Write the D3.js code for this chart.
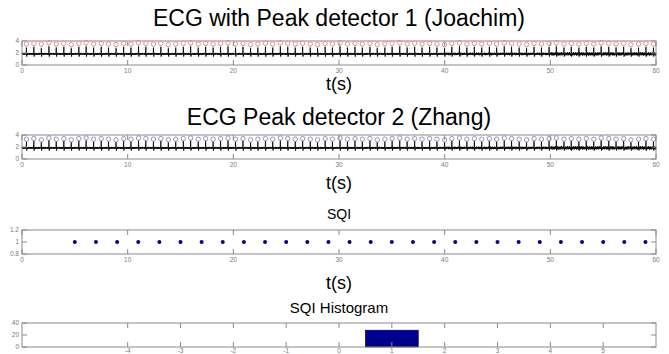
<!DOCTYPE html>
<html>
<head>
<meta charset="utf-8">
<script src="https://cdn.jsdelivr.net/npm/d3@7"></script>
<style>
  html, body { margin: 0; padding: 0; background: #fff; }
  svg { display: block; }
  text { font-family: "Liberation Sans", Arial, sans-serif; }
</style>
</head>
<body>
<script>
// ---- data ----------------------------------------------------------
// R-peak times (s) over the 60 s recording
const beatTimes = [
  0.42, 1.12, 1.83, 2.55, 3.24, 3.96, 4.66, 5.38, 6.07, 6.78,
  7.50, 8.19, 8.90, 9.62, 10.31, 11.03, 11.72, 12.44, 13.14, 13.85,
  14.55, 15.27, 15.96, 16.68, 17.38, 18.09, 18.79, 19.50, 20.21, 20.91,
  21.63, 22.32, 23.04, 23.73, 24.45, 25.15, 25.86, 26.56, 27.28, 27.97,
  28.69, 29.38, 30.10, 30.80, 31.51, 32.21, 32.93, 33.62, 34.34, 35.03,
  35.75, 36.45, 37.16, 37.86, 38.58, 39.27, 39.99, 40.68, 41.40, 42.10,
  42.81, 43.51, 44.23, 44.92, 45.64, 46.33, 47.05, 47.75, 48.46, 49.16,
  49.88, 50.57, 51.29, 51.98, 52.70, 53.40, 54.11, 54.81, 55.53, 56.22,
  56.94, 57.63, 58.35, 59.05, 59.76
];
// R-wave top of the ECG trace at each beat
const rWave = [
  2.9, 3.0, 2.8, 3.1, 2.9, 3.0, 2.8, 3.0, 3.1, 2.9,
  3.0, 2.9, 2.8, 3.0, 2.9, 3.1, 3.0, 2.9, 3.0, 2.8,
  2.9, 3.0, 3.1, 2.9, 3.0, 2.9, 3.0, 3.1, 2.9, 3.0,
  2.8, 2.9, 3.0, 2.9, 3.1, 3.0, 2.9, 3.0, 2.9, 2.8,
  3.0, 2.9, 3.1, 2.9, 3.0, 2.9, 3.0, 2.8, 2.9, 3.0,
  3.1, 2.9, 3.0, 2.9, 3.0, 2.9, 2.8, 3.0, 3.1, 2.9,
  3.0, 2.9, 3.0, 2.9, 3.1, 3.0, 2.9, 2.8, 3.0, 2.9,
  3.0, 3.1, 2.9, 3.0, 2.9, 3.0, 2.9, 3.1, 3.0, 2.9,
  3.0, 2.8, 2.9, 3.0, 2.9
];
// detector 1 (Joachim) marker heights
const joachimPeaks = [
  3.5, 3.6, 3.5, 3.7, 3.5, 3.6, 3.4, 3.6, 3.7, 3.5,
  3.6, 3.5, 3.4, 3.6, 3.5, 3.7, 3.6, 3.5, 3.6, 3.4,
  3.5, 3.6, 3.7, 3.5, 3.6, 3.5, 3.6, 3.7, 3.5, 3.6,
  3.4, 3.5, 3.6, 3.5, 3.7, 3.6, 3.5, 3.6, 3.5, 3.4,
  3.6, 3.5, 3.7, 3.5, 3.6, 3.5, 3.6, 3.4, 3.5, 3.6,
  3.7, 3.5, 3.6, 3.5, 3.6, 3.5, 3.4, 3.6, 3.7, 3.5,
  3.6, 3.5, 3.6, 3.5, 3.7, 3.6, 3.5, 3.4, 3.6, 3.5,
  3.6, 3.7, 3.5, 3.6, 3.5, 3.6, 3.5, 3.7, 3.6, 3.5,
  3.6, 3.4, 3.5, 3.6, 3.5
];
// detector 2 (Zhang) marker heights
const zhangPeaks = [
  3.3, 3.4, 3.2, 3.5, 3.3, 3.4, 3.2, 3.4, 3.5, 3.3,
  3.4, 3.3, 3.2, 3.4, 3.3, 3.5, 3.4, 3.3, 3.4, 3.2,
  3.3, 3.4, 3.5, 3.3, 3.4, 3.3, 3.4, 3.5, 3.3, 3.4,
  3.2, 3.3, 3.4, 3.3, 3.5, 3.4, 3.3, 3.4, 3.3, 3.2,
  3.4, 3.3, 3.5, 3.3, 3.4, 3.3, 3.4, 3.2, 3.3, 3.4,
  3.5, 3.3, 3.4, 3.3, 3.4, 3.3, 3.2, 3.4, 3.5, 3.3,
  3.4, 3.3, 3.4, 3.3, 3.5, 3.4, 3.3, 3.2, 3.4, 3.3,
  3.4, 3.5, 3.3, 3.4, 3.3, 3.4, 3.3, 3.5, 3.4, 3.3,
  3.4, 3.2, 3.3, 3.4, 3.3
];
// QRS complex around each R peak: offsets (s) and levels relative to baseline
const qrsOffsets = [-0.06, -0.03, 0, 0.03, 0.06];
const qrsLevels  = [0, -0.15, null, -0.45, 0];   // null = R-wave top
const ecgBaseline = 1.85;
// baseline noise pattern (repeats along the trace) and its gain per 10 s
const noisePattern = [0.00, 0.13, -0.09, 0.16, -0.12, 0.05, -0.18, 0.10, -0.04, 0.15,
                      -0.11, 0.07, -0.16, 0.09, -0.06, 0.12, -0.14, 0.03, 0.17, -0.08,
                      0.11, -0.15, 0.06];
const noiseGain = [1.0, 1.0, 1.0, 1.05, 1.25, 1.6];

// SQI per analysis window
const sqiTimes  = [5, 7, 9, 11, 13, 15, 17, 19, 21, 23, 25, 27, 29, 31,
                   33, 35, 37, 39, 41, 43, 45, 47, 49, 51, 53, 55, 57, 59];
const sqiValues = [1, 1, 1, 1, 1, 1, 1, 1, 1, 1, 1, 1, 1, 1,
                   1, 1, 1, 1, 1, 1, 1, 1, 1, 1, 1, 1, 1, 1];

// SQI histogram bins
const histCenters = [1];
const histCounts  = [28];

// tick labels
const timeTicks = [0, 10, 20, 30, 40, 50, 60];
const ecgTicks  = [0, 2, 4];
const sqiTicks  = [0.8, 1, 1.2];
const histXTicks = [-4, -3, -2, -1, 0, 1, 2, 3, 4, 5];
const histYTicks = [0, 20, 40];

// ---- build the ECG trace -------------------------------------------
const step = 0.025;
const ecg = [];
for (let i = 0; i * step <= 60; i++) {
  const t = i * step;
  const near = beatTimes.some(b => Math.abs(t - b) < 0.07);
  if (near) continue;
  const g = noiseGain[Math.min(5, Math.floor(t / 10))];
  ecg.push([t, ecgBaseline + noisePattern[i % noisePattern.length] * g]);
}
beatTimes.forEach((b, k) => {
  qrsOffsets.forEach((o, j) => {
    const lv = qrsLevels[j];
    ecg.push([b + o, lv === null ? rWave[k] : ecgBaseline + lv]);
  });
});
ecg.sort((a, b) => a[0] - b[0]);

// ---- drawing -------------------------------------------------------
const W = 669, H = 354;
const L = 22, R = 656;
const svg = d3.select("body").append("svg").attr("width", W).attr("height", H);

const frameColor = "#8a8a8a";
const labelColor = "#7a7a7a";
const tickLen = 5;

function drawFrame(x, y, xt, yt, yFmt, labelDy) {
  const [y0, y1] = y.range();
  const g = svg.append("g");
  g.append("rect")
    .attr("x", L).attr("y", y1).attr("width", R - L).attr("height", y0 - y1)
    .attr("fill", "none").attr("stroke", frameColor).attr("stroke-width", 1);
  // x ticks on bottom and top, pointing inward
  xt.forEach(v => {
    const px = x(v);
    g.append("line").attr("x1", px).attr("x2", px).attr("y1", y0).attr("y2", y0 - tickLen)
      .attr("stroke", frameColor);
    g.append("line").attr("x1", px).attr("x2", px).attr("y1", y1).attr("y2", y1 + tickLen)
      .attr("stroke", frameColor);
    g.append("text").attr("x", px).attr("y", y0 + labelDy).attr("text-anchor", "middle")
      .attr("font-size", 6.5).attr("fill", labelColor).text(v);
  });
  // y ticks on left and right
  yt.forEach(v => {
    const py = y(v);
    g.append("line").attr("x1", L).attr("x2", L + tickLen).attr("y1", py).attr("y2", py)
      .attr("stroke", frameColor);
    g.append("line").attr("x1", R).attr("x2", R - tickLen).attr("y1", py).attr("y2", py)
      .attr("stroke", frameColor);
    g.append("text").attr("x", L - 3).attr("y", py + 2.3).attr("text-anchor", "end")
      .attr("font-size", 6.5).attr("fill", labelColor).text(yFmt(v));
  });
}

function title(text, y, size) {
  svg.append("text").attr("x", (L + R) / 2).attr("y", y).attr("text-anchor", "middle")
    .attr("font-size", size).attr("fill", "#000").text(text);
}

const xTime = d3.scaleLinear().domain([0, 60]).range([L, R]);

function ecgPanel(top, bottom, peaks, markColor) {
  const y = d3.scaleLinear().domain([0, 4]).range([bottom, top]);
  const g = svg.append("g");
  const line = d3.line().x(d => xTime(d[0])).y(d => y(d[1]));
  g.append("path").datum(ecg).attr("d", line)
    .attr("fill", "none").attr("stroke", "#000").attr("stroke-width", 0.8);
  // detected peaks: hollow circle with a stem down to the R wave
  beatTimes.forEach((b, k) => {
    const cx = xTime(b), cy = y(peaks[k]);
    g.append("line").attr("x1", cx).attr("x2", cx).attr("y1", cy + 2.2).attr("y2", y(rWave[k]))
      .attr("stroke", markColor).attr("stroke-width", 0.8);
    g.append("circle").attr("cx", cx).attr("cy", cy).attr("r", 2.2)
      .attr("fill", "none").attr("stroke", markColor).attr("stroke-width", 0.9);
  });
  drawFrame(xTime, y, timeTicks, ecgTicks, d => d, 8);
  return y;
}

// panel 1
title("ECG with Peak detector 1 (Joachim)", 26, 23);
const y1 = ecgPanel(41, 65, joachimPeaks, "#d98888");
svg.append("line").attr("x1", L).attr("x2", R).attr("y1", y1(3.92)).attr("y2", y1(3.92))
  .attr("stroke", "#e6a9a9").attr("stroke-width", 0.8);
title("t(s)", 90, 18);

// panel 2
title("ECG Peak detector 2 (Zhang)", 125, 23);
ecgPanel(135, 159, zhangPeaks, "#8a86c0");
title("t(s)", 189, 18);

// panel 3: SQI
title("SQI", 219, 14);
const ySqi = d3.scaleLinear().domain([0.8, 1.2]).range([254, 230]);
drawFrame(xTime, ySqi, timeTicks, sqiTicks, d => d, 8);
svg.append("g").selectAll("circle").data(sqiTimes).join("circle")
  .attr("cx", (d) => xTime(d)).attr("cy", (d, i) => ySqi(sqiValues[i])).attr("r", 2)
  .attr("fill", "#00008b");
title("t(s)", 289, 18);

// panel 4: SQI histogram
title("SQI Histogram", 313, 15);
const xHist = d3.scaleLinear().domain([-6, 6]).range([L, R]);
const yHist = d3.scaleLinear().domain([0, 40]).range([347, 323]);
svg.append("g").selectAll("rect").data(histCenters).join("rect")
  .attr("x", d => xHist(d - 0.5)).attr("width", d => xHist(d + 0.5) - xHist(d - 0.5))
  .attr("y", (d, i) => yHist(histCounts[i])).attr("height", (d, i) => yHist(0) - yHist(histCounts[i]))
  .attr("fill", "#00008f").attr("stroke", "#000").attr("stroke-width", 0.6);
drawFrame(xHist, yHist, histXTicks, histYTicks, d => d, 5.5);
</script>
</body>
</html>
